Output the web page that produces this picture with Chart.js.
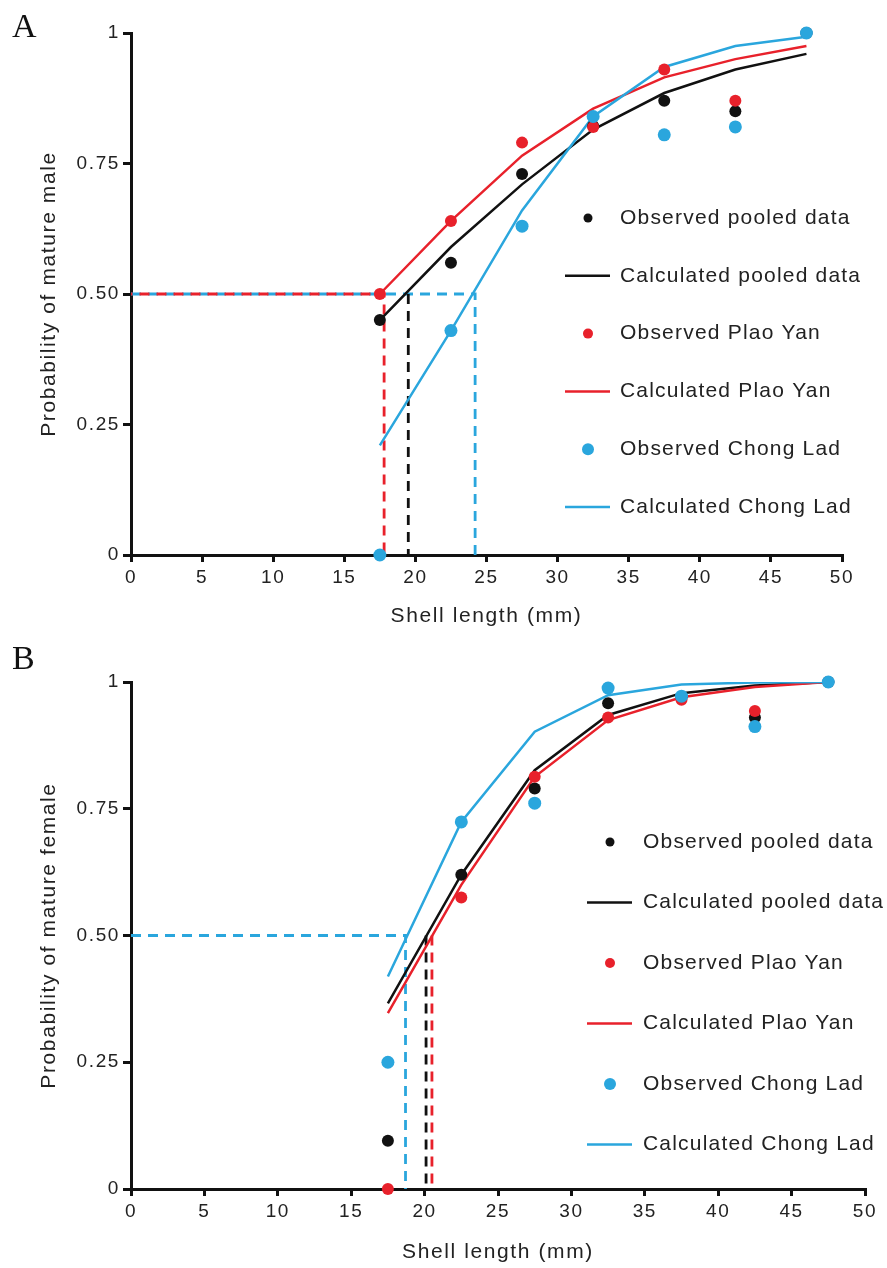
<!DOCTYPE html>
<html>
<head>
<meta charset="utf-8">
<script src="https://cdn.jsdelivr.net/npm/chart.js@4.4.1/dist/chart.umd.min.js"></script>
<style>
  body { margin: 0; background: #fff; }
  #wrap { position: relative; width: 887px; height: 1268px; }
  .panel { position: absolute; left: 0; width: 887px; }
  .tag { position: absolute; font-family: 'Liberation Serif', 'Times New Roman', serif; font-size: 34px; color: #111; line-height: 1; }
</style>
</head>
<body>
<div id="wrap">
  <div class="panel" style="top:0;height:640px"><canvas id="chartA"></canvas></div>
  <div class="panel" style="top:640px;height:628px"><canvas id="chartB"></canvas></div>
  <div class="tag" style="left:12px;top:9px">A</div>
  <div class="tag" style="left:12px;top:641px">B</div>
</div>
<script>
// shell length class midpoints (mm)
const lengths = [17.5, 22.5, 27.5, 32.5, 37.5, 42.5, 47.5];
const yTickLabels = ['0', '0.25', '0.50', '0.75', '1'];
const legendLabels = ['Observed pooled data', 'Calculated pooled data', 'Observed Plao Yan',
                      'Calculated Plao Yan', 'Observed Chong Lad', 'Calculated Chong Lad'];

// A - males
const maleObsPooled = [0.45, 0.56, 0.73, 0.822, 0.87, 0.85, 1.0];
const maleObsPlao   = [0.50, 0.64, 0.79, 0.82, 0.93, 0.87, 1.0];
const maleObsChong  = [0.0, 0.43, 0.63, 0.84, 0.805, 0.82, 1.0];
const maleCalcPooled = [0.45, 0.59, 0.71, 0.815, 0.885, 0.93, 0.96];
const maleCalcPlao   = [0.50, 0.64, 0.765, 0.855, 0.915, 0.95, 0.975];
const maleCalcChong  = [0.21, 0.43, 0.66, 0.84, 0.935, 0.975, 0.993];
const maleL50 = [19.5, 17.8, 24.2]; // pooled, Plao Yan, Chong Lad

// B - females
const femObsPooled = [0.095, 0.62, 0.79, 0.958, 0.97, 0.93, 1.0];
const femObsPlao   = [0.0, 0.575, 0.813, 0.93, 0.965, 0.943, 1.0];
const femObsChong  = [0.25, 0.724, 0.761, 0.988, 0.972, 0.912, 1.0];
const femCalcPooled = [0.366, 0.62, 0.826, 0.935, 0.978, 0.993, 1.0];
const femCalcPlao   = [0.347, 0.60, 0.813, 0.925, 0.97, 0.99, 1.0];
const femCalcChong  = [0.419, 0.724, 0.902, 0.974, 0.995, 0.999, 1.0];
const femaleL50 = [20.1, 20.5, 18.7];

const BLACK = '#111111', RED = '#e8212b', BLUE = '#2aa6dd';
const FONT = "'Liberation Sans', Arial, sans-serif";

function pts(vals) {
    return lengths.map((x, i) => ({ x: x, y: vals[i] }));
}

// dashed guide at p = 0.5; withHoriz draws the horizontal part from x = 0 too
function guide(x50, withHoriz) {
    const down = [{ x: x50, y: 0.5 }, { x: x50, y: 0 }];
    return withHoriz ? [{ x: 0, y: 0.5 }].concat(down) : down;
}

function obsSet(vals, color, r) {
    return { data: pts(vals), backgroundColor: color, borderWidth: 0, pointRadius: r,
             pointHoverRadius: r, showLine: false, clip: false };
}
function calcSet(vals, color) {
    return { data: pts(vals), borderColor: color, borderWidth: 2.5, pointRadius: 0,
             showLine: true, fill: false, tension: 0 };
}
function guideSet(data, color, offset) {
    return { data: data, borderColor: color, borderWidth: 2.8, borderDash: [10, 7],
             borderDashOffset: offset || 0, pointRadius: 0, showLine: true, fill: false, clip: false };
}

const manualLegend = {
    id: 'manualLegend',
    beforeDraw(chart) {
        chart.ctx.letterSpacing = '1.6px';
    },
    afterDatasetsDraw(chart, args, opts) {
        const ctx = chart.ctx;
        const colors = [BLACK, BLACK, RED, RED, BLUE, BLUE];
        const radii = [4.5, 0, 5, 0, 6, 0];
        ctx.save();
        ctx.font = '21px ' + FONT;
        ctx.letterSpacing = '1.2px';
        ctx.textBaseline = 'middle';
        ctx.textAlign = 'left';
        legendLabels.forEach((label, i) => {
            const y = opts.y0 + i * opts.step;
            ctx.fillStyle = colors[i];
            ctx.strokeStyle = colors[i];
            if (i % 2 === 0) {
                ctx.beginPath();
                ctx.arc(opts.markX, y, radii[i], 0, Math.PI * 2);
                ctx.fill();
            } else {
                ctx.lineWidth = 2.5;
                ctx.beginPath();
                ctx.moveTo(opts.markX - 23, y);
                ctx.lineTo(opts.markX + 22, y);
                ctx.stroke();
            }
            ctx.fillStyle = '#222';
            ctx.fillText(label, opts.textX, y);
        });
        ctx.restore();
    }
};

function makeChart(id, p) {
    const datasets = [
        obsSet(p.obs[2], BLUE, 6.5),
        obsSet(p.obs[1], RED, 6),
        obsSet(p.obs[0], BLACK, 6),
        calcSet(p.calc[2], BLUE),
        calcSet(p.calc[1], RED),
        calcSet(p.calc[0], BLACK)
    ].concat(p.guides);

    return new Chart(document.getElementById(id), {
        type: 'scatter',
        data: { datasets: datasets },
        plugins: [manualLegend],
        options: {
            responsive: true,
            maintainAspectRatio: false,
            animation: false,
            layout: { padding: { top: p.top, right: p.right, left: 0, bottom: 0 } },
            plugins: {
                legend: { display: false },
                tooltip: { enabled: false },
                manualLegend: p.legend
            },
            scales: {
                x: {
                    type: 'linear', min: 0, max: 50,
                    ticks: { stepSize: 5, color: '#222', padding: 4, font: { family: FONT, size: 19 } },
                    grid: { drawOnChartArea: false, drawTicks: true, tickLength: 7, lineWidth: 3, color: BLACK },
                    border: { color: BLACK, width: 3 },
                    title: { display: true, text: 'Shell length (mm)', color: '#222',
                             font: { family: FONT, size: 21 }, padding: { top: 0, bottom: p.xTitlePad } },
                    afterFit: s => { s.height = p.xHeight; }
                },
                y: {
                    min: 0, max: 1,
                    ticks: { stepSize: 0.25, color: '#222', padding: 3, font: { family: FONT, size: 19 },
                             callback: v => yTickLabels[Math.round(v / 0.25)] },
                    grid: { drawOnChartArea: false, drawTicks: true, tickLength: 8, lineWidth: 3, color: BLACK },
                    border: { color: BLACK, width: 3 },
                    title: { display: true, text: p.yTitle, color: '#222',
                             font: { family: FONT, size: 21 }, padding: { top: 37, bottom: 0 } },
                    afterFit: s => { s.width = 131; }
                }
            }
        }
    });
}

makeChart('chartA', {
    obs: [maleObsPooled, maleObsPlao, maleObsChong],
    calc: [maleCalcPooled, maleCalcPlao, maleCalcChong],
    guides: [
        guideSet(guide(maleL50[1], true), RED, 8.5),
        guideSet(guide(maleL50[0], false), BLACK),
        guideSet(guide(maleL50[2], true), BLUE)
    ],
    yTitle: 'Probability of mature male',
    top: 33, right: 45, xHeight: 85, xTitlePad: 11,
    legend: { markX: 588, textX: 620, y0: 218, step: 57.8 }
});

makeChart('chartB', {
    obs: [femObsPooled, femObsPlao, femObsChong],
    calc: [femCalcPooled, femCalcPlao, femCalcChong],
    guides: [
        guideSet(guide(femaleL50[1], false), RED),
        guideSet(guide(femaleL50[0], false), BLACK),
        guideSet(guide(femaleL50[2], true), BLUE)
    ],
    yTitle: 'Probability of mature female',
    top: 42, right: 22, xHeight: 79, xTitlePad: 3,
    legend: { markX: 610, textX: 643, y0: 202, step: 60.5 }
});
</script>
</body>
</html>
